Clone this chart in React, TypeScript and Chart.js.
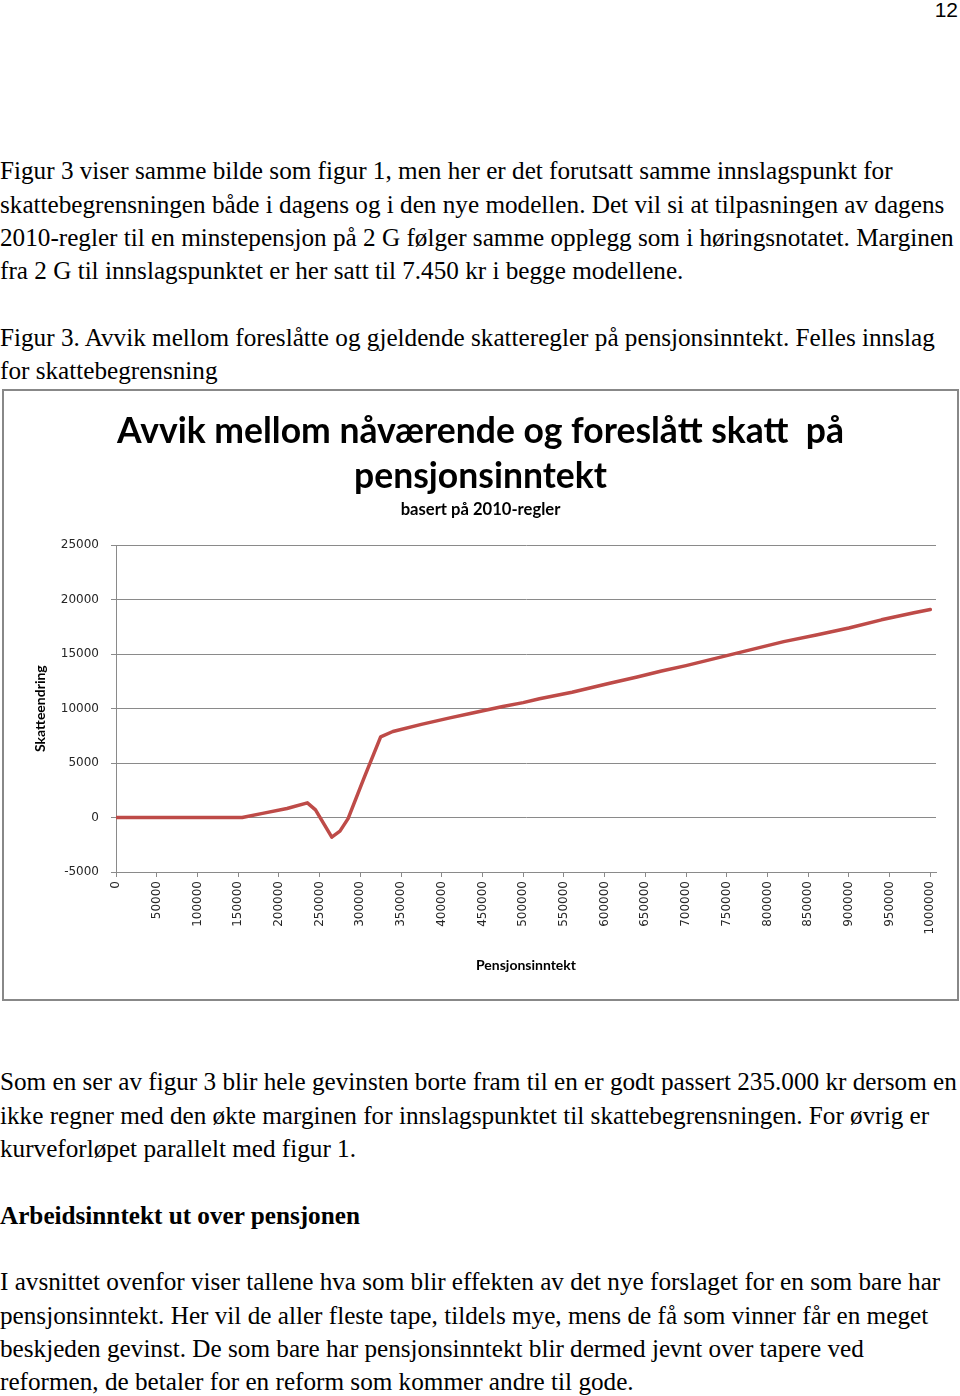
import React, { useEffect, useRef } from "react";
import { Chart, registerables } from "chart.js";

Chart.register(...registerables);

// Pensjonsinntekt (kr)
const incomes = [
  0, 50000, 100000, 155000, 180000, 210000, 235000, 245000, 265000, 275000,
  285000, 305000, 325000, 340000, 375000, 410000, 435000, 475000, 500000, 520000,
  560000, 605000, 640000, 670000, 700000, 730000, 760000, 790000, 820000, 860000,
  900000, 940000, 980000, 1000000,
];
// Skatteendring (kr)
const taxChange = [
  0, 0, 0, 0, 380, 830, 1350, 700, -1800, -1250,
  -100, 3700, 7400, 7900, 8550, 9150, 9550, 10200, 10550, 10900,
  11500, 12300, 12900, 13450, 13950, 14500, 15050, 15600, 16150, 16750,
  17400, 18150, 18800, 19100,
];
const xTickValues = [
  0, 50000, 100000, 150000, 200000, 250000, 300000, 350000, 400000, 450000, 500000,
  550000, 600000, 650000, 700000, 750000, 800000, 850000, 900000, 950000, 1000000,
];
const yTickValues = [-5000, 0, 5000, 10000, 15000, 20000, 25000];

const titleLines = ["Avvik mellom nåværende og foreslått skatt  på", "pensjonsinntekt"];
const subtitleText = "basert på 2010-regler";
const yAxisTitle = "Skatteendring";
const xAxisTitle = "Pensjonsinntekt";

const paraTop = [
  "Figur 3 viser samme bilde som figur 1, men her er det forutsatt samme innslagspunkt for",
  "skattebegrensningen både i dagens og i den nye modellen. Det vil si at tilpasningen av dagens",
  "2010-regler til en minstepensjon på 2 G følger samme opplegg som i høringsnotatet. Marginen",
  "fra 2 G til innslagspunktet er her satt til 7.450 kr i begge modellene.",
  "",
  "Figur 3. Avvik mellom foreslåtte og gjeldende skatteregler på pensjonsinntekt. Felles innslag",
  "for skattebegrensning",
];
const paraBottom = [
  "Som en ser av figur 3 blir hele gevinsten borte fram til en er godt passert 235.000 kr dersom en",
  "ikke regner med den økte marginen for innslagspunktet til skattebegrensningen. For øvrig er",
  "kurveforløpet parallelt med figur 1.",
  "",
  "#Arbeidsinntekt ut over pensjonen",
  "",
  "I avsnittet ovenfor viser tallene hva som blir effekten av det nye forslaget for en som bare har",
  "pensjonsinntekt. Her vil de aller fleste tape, tildels mye, mens de få som vinner får en meget",
  "beskjeden gevinst. De som bare har pensjonsinntekt blir dermed jevnt over tapere ved",
  "reformen, de betaler for en reform som kommer andre til gode.",
];

const LINE_H = 33.333;
const FONT_PX = 25.2;

function TextBlock({ lines, top }: { lines: string[]; top: number }) {
  return (
    <div
      style={{
        position: "absolute",
        left: 0,
        top,
        width: 960,
        fontFamily: "'Liberation Serif', 'Times New Roman', serif",
        fontSize: FONT_PX,
        lineHeight: `${LINE_H}px`,
        color: "#000",
      }}
    >
      {lines.map((l, i) => {
        const bold = l.startsWith("#");
        return (
          <div key={i} style={{ height: LINE_H, whiteSpace: "nowrap", fontWeight: bold ? "bold" : "normal" }}>
            {bold ? l.slice(1) : l || "\u00a0"}
          </div>
        );
      })}
    </div>
  );
}

function ChartBox() {
  const ref = useRef<HTMLCanvasElement | null>(null);
  useEffect(() => {
    if (!ref.current) return;
    const tickFont = { family: "'DejaVu Sans', Verdana, sans-serif", size: 12 };
    const labelFamily = "Lato, 'Open Sans', sans-serif";
    const chart = new Chart(ref.current, {
      type: "line",
      data: {
        datasets: [
          {
            data: incomes.map((x, i) => ({ x, y: taxChange[i] })),
            borderColor: "#BE4B48",
            backgroundColor: "#BE4B48",
            borderWidth: 3.5,
            pointRadius: 0,
            tension: 0,
            borderJoinStyle: "round",
            borderCapStyle: "round",
          },
        ],
      },
      options: {
        animation: false,
        responsive: false,
        devicePixelRatio: 1,
        layout: { padding: { left: 21, right: 21, top: 0, bottom: 0 } },
        plugins: {
          legend: { display: false },
          tooltip: { enabled: false },
          title: {
            display: true,
            text: titleLines,
            color: "#000",
            font: { family: labelFamily, size: 35.5, weight: "bold", lineHeight: 45 / 35.5 },
            padding: { top: 18.2, bottom: 0 },
          },
          subtitle: {
            display: true,
            text: subtitleText,
            color: "#000",
            font: { family: labelFamily, size: 16.6, weight: "bold", lineHeight: 1.2 },
            padding: { top: 0.5, bottom: 25.6 },
          },
        },
        scales: {
          x: {
            type: "linear",
            min: 0,
            max: 1007000,
            afterFit: (s: any) => {
              s.height = 127;
            },
            afterBuildTicks: (s: any) => {
              s.ticks = xTickValues.map((v) => ({ value: v }));
            },
            ticks: {
              autoSkip: false,
              maxRotation: 90,
              minRotation: 90,
              padding: 4,
              color: "#262626",
              font: tickFont,
              callback: (v: any) => String(v),
            },
            grid: { drawOnChartArea: false, drawTicks: true, tickLength: 5, color: "#8a8a8a" },
            border: { color: "#8a8a8a", width: 1 },
            title: {
              display: true,
              text: xAxisTitle,
              color: "#000",
              font: { family: labelFamily, size: 14, weight: "bold", lineHeight: 1.2 },
              padding: { top: 0, bottom: 25.6 },
            },
          },
          y: {
            min: -5000,
            max: 25000,
            afterFit: (s: any) => {
              s.width = 91;
            },
            afterBuildTicks: (s: any) => {
              s.ticks = yTickValues.map((v) => ({ value: v }));
            },
            ticks: {
              padding: 12,
              color: "#262626",
              font: tickFont,
              callback: (v: any) => String(v),
            },
            grid: { drawTicks: true, tickLength: 5, color: "#8a8a8a" },
            border: { color: "#8a8a8a", width: 1 },
            title: {
              display: true,
              text: yAxisTitle,
              color: "#000",
              font: { family: labelFamily, size: 14, weight: "bold", lineHeight: 1.2 },
              padding: { top: 6.6, bottom: 0 },
            },
          },
        },
      },
    } as any);
    return () => chart.destroy();
  }, []);
  return (
    <div
      style={{
        position: "absolute",
        left: 2,
        top: 389,
        width: 957,
        height: 612,
        border: "2px solid #888888",
        boxSizing: "border-box",
        background: "#fff",
      }}
    >
      <canvas ref={ref} width={953} height={608} style={{ display: "block", width: 953, height: 608 }} />
    </div>
  );
}

export default function App() {
  return (
    <div style={{ position: "absolute", left: 0, top: 0, width: 960, height: 1396, background: "#fff", overflow: "hidden" }}>
      <div
        style={{
          position: "absolute",
          right: 2,
          top: -2,
          fontFamily: "'Liberation Sans Narrow', 'Liberation Sans', sans-serif",
          fontSize: 21,
          color: "#000",
        }}
      >
        12
      </div>
      <TextBlock lines={paraTop} top={180 - 25.2 - 0.5} />
      <ChartBox />
      <TextBlock lines={paraBottom} top={1090 - 25.2 + 0.5} />
    </div>
  );
}
